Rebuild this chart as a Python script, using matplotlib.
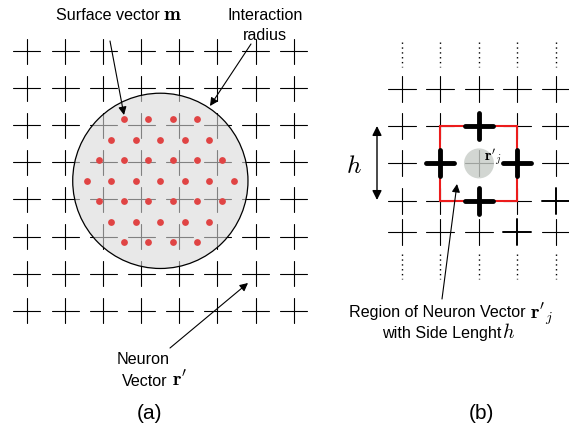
import numpy as np
import matplotlib
matplotlib.use("Agg")
import matplotlib.pyplot as plt
from matplotlib.patches import Circle, Rectangle

plt.rcParams['font.family'] = ['Liberation Sans', 'DejaVu Sans']
plt.rcParams['mathtext.fontset'] = 'cm'

# panel (a): 8x8 grid of neurons, circle of surface vectors
a_cols = 8
a_rows = 8
a_circle_center = (3.5, 3.5)     # grid units
a_circle_radius = 2.3            # grid units
dot_row_counts = [4, 5, 6, 7, 6, 5, 4]

# panel (b): 5 columns, 5 rows, region around neuron (2, 2)
b_cols = 5
b_rows = [0, 1, 2, 3, 3.84]
b_center = (2, 2)
b_thick = [(2, 1), (1, 2), (3, 2), (2, 3)]
b_medium = [(4, 3), (3, 3.84)]

fig = plt.figure(figsize=(5.69, 4.35), dpi=100)
ax = fig.add_axes([0, 0, 1, 1])
ax.set_xlim(0, 569)
ax.set_ylim(435, 0)
ax.axis('off')


def cross(x, y, hw, hh, lw=0.8, color='black', z=1):
    ax.plot([x - hw, x + hw], [y, y], color=color, lw=lw, solid_capstyle='round', zorder=z)
    ax.plot([x, x], [y - hh, y + hh], color=color, lw=lw, solid_capstyle='round', zorder=z)


def label(x, y, txt, math, fs=11.6, mfs=14.5, gap=4, dy=0):
    # plain text ends at x, math part starts at x + gap
    ax.text(x, y, txt, ha='right', va='center', fontsize=fs)
    ax.text(x + gap, y + dy, math, ha='left', va='center', fontsize=mfs)


# ---- panel (a) ----
ax0, ay0, adx, ady = 27, 52, 38.1, 37.1
for i in range(a_cols):
    for j in range(a_rows):
        cross(ax0 + i * adx, ay0 + j * ady, 13.5, 12.5)

cx = ax0 + a_circle_center[0] * adx
cy = ay0 + a_circle_center[1] * ady
ax.add_patch(Circle((cx, cy), a_circle_radius * adx, facecolor=(0.85, 0.85, 0.85, 0.6),
                    edgecolor='black', lw=0.9, zorder=2))

ddx, ddy = 24.5, 20.5
for k, n in enumerate(dot_row_counts):
    xs = cx + (np.arange(n) - (n - 1) / 2) * ddx
    ys = np.full(n, cy + (k - 3) * ddy)
    ax.scatter(xs, ys, s=24, color='#e04444', zorder=3, linewidths=0)

arr = dict(arrowstyle='-|>', color='black', lw=0.8, mutation_scale=12, shrinkA=0, shrinkB=0)
fs = 11.6
label(160, 15, 'Surface vector', r'$\mathbf{m}$', gap=3, dy=-1)
ax.annotate('', xy=(124, 116), xytext=(110, 42), arrowprops=arr, zorder=4)
ax.text(265, 16, 'Interaction', ha='center', va='center', fontsize=fs)
ax.text(265, 36, 'radius', ha='center', va='center', fontsize=fs)
ax.annotate('', xy=(210, 107), xytext=(251, 45), arrowprops=arr, zorder=4)
ax.text(117, 360, 'Neuron', ha='left', va='center', fontsize=fs)
label(168, 382, 'Vector', r"$\mathbf{r}'$", gap=4, dy=-2)
ax.annotate('', xy=(248, 284), xytext=(170, 349), arrowprops=arr, zorder=4)
ax.text(150, 414, '(a)', ha='center', va='center', fontsize=15)

# ---- panel (b) ----
bx0, by0, bdx, bdy = 402, 90, 38.5, 37.2
for i in range(b_cols):
    for r in b_rows:
        lw = 0.8
        if (i, r) in b_thick:
            lw = 3.5
        elif (i, r) in b_medium:
            lw = 1.4
        cross(bx0 + i * bdx, by0 + r * bdy, 14, 13, lw=lw, z=1 if lw < 3 else 4)
    x = bx0 + i * bdx
    ax.plot([x, x], [43, 68], color='black', lw=1.0, linestyle=(0, (1, 2.5)))
    ax.plot([x, x], [255, 280], color='black', lw=1.0, linestyle=(0, (1, 2.5)))

ax.add_patch(Rectangle((bx0 + (b_center[0] - 1) * bdx, by0 + (b_center[1] - 1) * bdy),
                       2 * bdx, 2 * bdy, fill=False, edgecolor='#ec1c1c', lw=1.5, zorder=3))
gx = bx0 + b_center[0] * bdx
gy = by0 + b_center[1] * bdy
ax.add_patch(Circle((gx, gy), 15, facecolor=(0.78, 0.80, 0.78, 0.8), edgecolor='none', zorder=2))
ax.text(484, 157, r"$\mathbf{r}'_j$", ha='left', va='center', fontsize=11, zorder=5)

ax.annotate('', xy=(377, 127), xytext=(377, 201),
            arrowprops=dict(arrowstyle='<|-|>', color='black', lw=1.0, mutation_scale=14,
                            shrinkA=0, shrinkB=0))
ax.text(354, 166, r'$h$', ha='center', va='center', fontsize=18)

ax.annotate('', xy=(457, 185), xytext=(442, 300), arrowprops=arr, zorder=4)
label(526, 313, 'Region of Neuron Vector', r"$\mathbf{r}'_j$", gap=4, dy=1)
label(501, 334, 'with Side Lenght', r'$h$', gap=1, dy=-1)
ax.text(481, 414, '(b)', ha='center', va='center', fontsize=15)

fig.savefig('out.png', dpi=100)
